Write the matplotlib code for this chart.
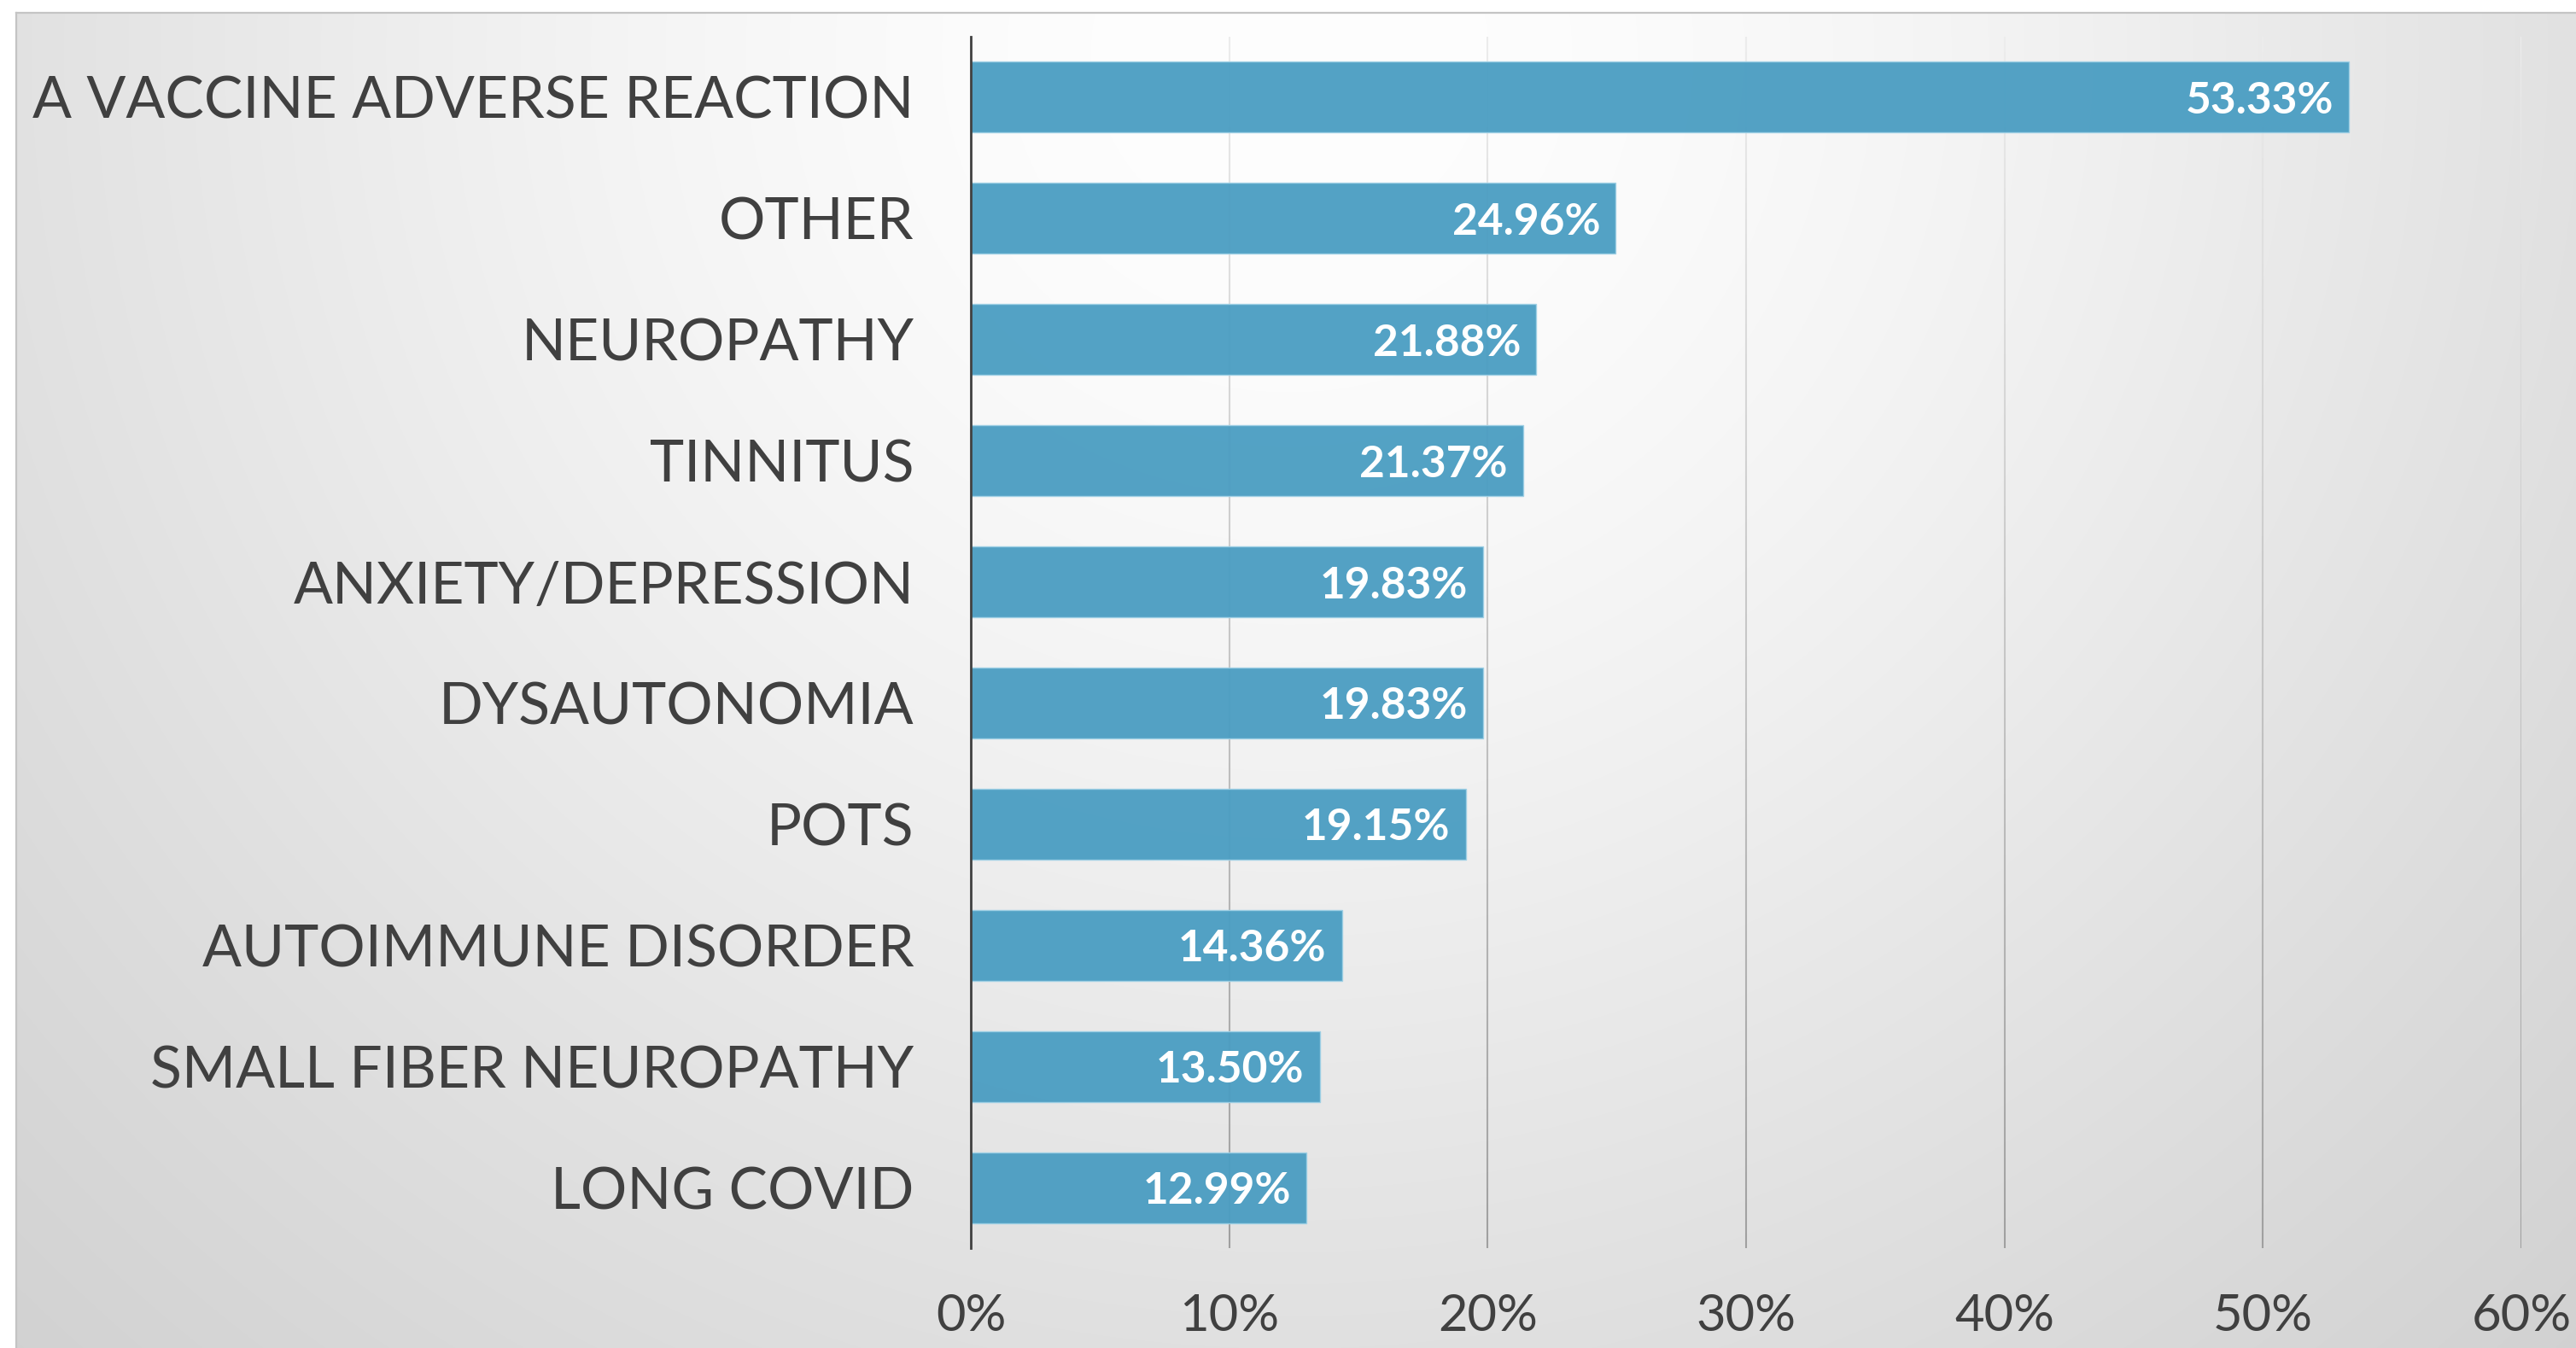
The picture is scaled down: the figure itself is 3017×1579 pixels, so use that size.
import matplotlib.pyplot as plt
import numpy as np
from matplotlib.collections import LineCollection
from matplotlib import rcParams

rcParams['font.family'] = ['Lato', 'DejaVu Sans']

# data
categories = ['A VACCINE ADVERSE REACTION', 'OTHER', 'NEUROPATHY', 'TINNITUS',
              'ANXIETY/DEPRESSION', 'DYSAUTONOMIA', 'POTS',
              'AUTOIMMUNE DISORDER', 'SMALL FIBER NEUROPATHY', 'LONG COVID']
values = [53.33, 24.96, 21.88, 21.37, 19.83, 19.83, 19.15, 14.36, 13.50, 12.99]
xticks = [0, 10, 20, 30, 40, 50, 60]
xtick_labels = ['0%', '10%', '20%', '30%', '40%', '50%', '60%']

W, H = 3017, 1579
fig = plt.figure(figsize=(W / 100, H / 100), dpi=100)
fig.patch.set_facecolor('white')

# soft radial grey background inside a thin frame
bg = fig.add_axes([0, 0, 1, 1])
xx, yy = np.meshgrid(np.arange(W), np.arange(H))
q = 1.3 * (1.44e-5 * (xx - 1510) ** 2 + 1.5e-5 * (yy - 60) ** 2)
shade = 254 - q / (1 + q / 90)
shade[(xx < 19) | (yy < 15)] = 255
img = np.dstack([shade] * 3).astype(np.uint8)
bg.imshow(img, extent=[0, W, H, 0], aspect='auto', interpolation='bilinear')
bg.plot([19, 19], [15, H], color='#c4c4c4', lw=1.6)
bg.plot([19, W], [15, 15], color='#c4c4c4', lw=1.6)
bg.set_xlim(0, W)
bg.set_ylim(H, 0)
bg.axis('off')

ax = fig.add_axes([1137 / W, 1 - 1462 / H, (2953 - 1137) / W, (1462 - 43) / H])
ax.patch.set_alpha(0)

y = np.arange(len(categories))
ax.set_xlim(0, 60)
ax.set_ylim(len(categories) - 0.5, -0.5)

# gridlines that darken towards the bottom
n = 80
ys = np.linspace(-0.5, len(categories) - 0.5, n + 1)
for t in xticks[1:]:
    segs = [[(t, ys[k]), (t, ys[k + 1])] for k in range(n)]
    g = np.linspace(236, 160, n) / 255
    cols = [(c, c, c) for c in g]
    ax.add_collection(LineCollection(segs, colors=cols, linewidths=1.5, zorder=1))

ax.barh(y, values, height=0.585, color='#4a9dc2', alpha=0.95,
        edgecolor='#9ed0e5', linewidth=1, zorder=2)

for i, v in enumerate(values):
    ax.annotate(f'{v:.2f}%', (v, i), xytext=(-13, 0), textcoords='offset points',
                ha='right', va='center_baseline', color='white',
                fontsize=37, fontweight='bold', zorder=3)

ax.set_yticks(y)
ax.set_yticklabels(categories, fontsize=49, color='#404040')
ax.set_xticks(xticks)
ax.set_xticklabels(xtick_labels, fontsize=43, color='#404040')
ax.tick_params(axis='both', length=0)
ax.tick_params(axis='y', pad=48)
ax.tick_params(axis='x', pad=38)

for s in ['top', 'right', 'bottom']:
    ax.spines[s].set_visible(False)
ax.spines['left'].set_color('#404040')
ax.spines['left'].set_linewidth(2)
ax.spines['left'].set_zorder(4)

fig.savefig('out.png', dpi=100)
